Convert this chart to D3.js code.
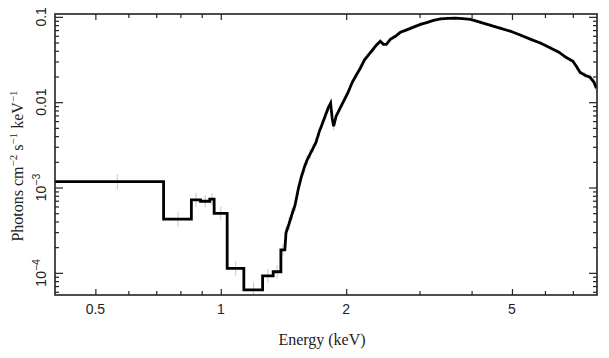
<!DOCTYPE html>
<html lang="en">
<head>
  <meta charset="UTF-8">
  <title>spectrum</title>
</head>
<body>
<style>
  * {
    padding: 0;
    margin: 0;
  }

  body {
    background: #fff;
  }

  #app {
    width: 609px;
    height: 358px;
  }
</style>

<div id="app"></div>

<script src="https://cdn.jsdelivr.net/npm/d3@7/dist/d3.min.js"></script>
<script>
  // wide low-energy bins (keV) and their model flux
  let binLo = [0.40, 0.729, 0.850, 0.894, 0.941, 0.964, 1.036, 1.136, 1.26, 1.336, 1.394]
  let binHi = [0.729, 0.850, 0.894, 0.941, 0.964, 1.036, 1.136, 1.26, 1.336, 1.394, 1.425]
  let binFlux = [1.17e-3, 4.25e-4, 7.15e-4, 6.9e-4, 7.33e-4, 4.99e-4, 1.13e-4, 6.3e-5, 9.2e-5, 1.03e-4, 1.86e-4]
  let binErr = [0.09, 0.09, 0.085, 0.07, 0.07, 0.08, 0.085, 0.09, 0.08, 0.08, 0.07]   // half-length, dex

  // narrow bins above ~1.43 keV
  let denseE = [1.434, 1.458, 1.483, 1.508, 1.533, 1.558, 1.585, 1.611, 1.638, 1.666, 1.693, 1.722, 1.751, 1.780, 1.810,
    1.835, 1.851, 1.866, 1.892, 1.934, 1.978, 2.022, 2.068, 2.114, 2.162, 2.210, 2.260, 2.311, 2.362, 2.415,
    2.456, 2.497, 2.553, 2.625, 2.698, 2.775, 2.853, 2.933, 3.015, 3.134, 3.241, 3.369, 3.502, 3.661, 3.806,
    3.978, 4.205, 4.445, 4.699, 4.966, 5.250, 5.550, 5.867, 6.202, 6.481, 6.737, 7.004, 7.161, 7.281, 7.486,
    7.697, 7.870, 7.97]
  let denseF = [2.94e-4, 3.74e-4, 4.90e-4, 6.24e-4, 9.35e-4, 1.29e-3, 1.69e-3, 2.10e-3, 2.47e-3, 2.90e-3, 3.40e-3, 4.46e-3, 5.53e-3, 6.86e-3, 8.51e-3,
    9.73e-3, 6.50e-3, 5.24e-3, 6.86e-3, 8.51e-3, 1.055e-2, 1.31e-2, 1.71e-2, 2.07e-2, 2.50e-2, 3.10e-2, 3.55e-2, 4.06e-2, 4.65e-2, 5.17e-2,
    4.77e-2, 4.77e-2, 5.45e-2, 5.92e-2, 6.59e-2, 6.95e-2, 7.33e-2, 7.74e-2, 8.17e-2, 8.62e-2, 9.10e-2, 9.45e-2, 9.60e-2, 9.65e-2, 9.55e-2,
    9.35e-2, 8.62e-2, 7.96e-2, 7.33e-2, 6.77e-2, 6.08e-2, 5.45e-2, 4.90e-2, 4.28e-2, 3.85e-2, 3.36e-2, 3.02e-2, 2.57e-2, 2.24e-2, 2.07e-2,
    1.96e-2, 1.71e-2, 1.46e-2]
  let denseErr = [0.08, 0.08, 0.07, 0.07, 0.07, 0.06, 0.06, 0.06, 0.06, 0.05, 0.05, 0.05, 0.05, 0.05, 0.05,
    0.04, 0.05, 0.05, 0.04, 0.04, 0.035, 0.035, 0.03, 0.03, 0.03, 0.03, 0.025, 0.025, 0.025, 0.025,
    0.02, 0.02, 0.02, 0.02, 0.02, 0.02, 0.02, 0.02, 0.02, 0.02, 0.02, 0.02, 0.02, 0.02, 0.02,
    0.02, 0.02, 0.02, 0.02, 0.02, 0.025, 0.025, 0.025, 0.025, 0.025, 0.025, 0.03, 0.03, 0.035, 0.035,
    0.04, 0.04, 0.045]

  // ticks
  let xMajor = [0.5, 1, 2, 5]
  let xMajorLabels = ["0.5", "1", "2", "5"]
  let xMinor = [0.6, 0.7, 0.8, 0.9, 3, 4, 6, 7]
  let yMajor = [1e-4, 1e-3, 0.01, 0.1]
  let yMajorLabels = [["10", "\u22124"], ["10", "\u22123"], ["0.01", ""], ["0.1", ""]]
  let yMinor = [6e-5, 7e-5, 8e-5, 9e-5, 2e-4, 3e-4, 4e-4, 5e-4, 6e-4, 7e-4, 8e-4, 9e-4,
    2e-3, 3e-3, 4e-3, 5e-3, 6e-3, 7e-3, 8e-3, 9e-3, 0.02, 0.03, 0.04, 0.05, 0.06, 0.07, 0.08, 0.09]

  let $width = 609, $height = 358
  let $left = 55, $right = 597, $top = 14, $bottom = 295

  let x = d3.scaleLog().domain([0.4, 8]).range([$left, $right])
  let y = d3.scaleLog().domain([5.5e-5, 0.108]).range([$bottom, $top])

  let svg = d3.select("#app").append("svg").attr("width", $width).attr("height", $height)

  svg.append("clipPath").attr("id", "clip").append("rect")
    .attr("x", $left).attr("y", $top).attr("width", $right - $left).attr("height", $bottom - $top)

  let plot = svg.append("g").attr("clip-path", "url(#clip)")

  // grey error bars
  let bars = []
  binLo.forEach(function (lo, i) {
    bars.push({e: (lo + binHi[i]) / 2, f: binFlux[i], d: binErr[i]})
  })
  denseE.forEach(function (e, i) {
    bars.push({e: e, f: denseF[i], d: denseErr[i]})
  })

  plot.selectAll("line.err").data(bars).enter().append("line").attr("class", "err")
    .attr("x1", function (d) { return x(d.e) })
    .attr("x2", function (d) { return x(d.e) })
    .attr("y1", function (d) { return y(d.f * Math.pow(10, d.d)) })
    .attr("y2", function (d) { return y(d.f / Math.pow(10, d.d)) })
    .attr("stroke", "#c8c8c8").attr("stroke-width", 1)

  // model: wide steps, then the narrow bins joined up
  let pts = []
  binLo.forEach(function (lo, i) {
    pts.push([lo, binFlux[i]])
    pts.push([binHi[i], binFlux[i]])
  })
  denseE.forEach(function (e, i) {
    pts.push([e, denseF[i]])
  })

  let line = d3.line()
    .x(function (d) { return x(d[0]) })
    .y(function (d) { return y(d[1]) })

  plot.append("path").datum(pts).attr("d", line)
    .attr("fill", "none").attr("stroke", "#000").attr("stroke-width", 2.8)
    .attr("stroke-linejoin", "miter")

  // axes, ticks pointing inward
  function styleAxis(g) {
    g.select(".domain").remove()
    g.selectAll(".tick line").attr("stroke", "#222").attr("stroke-width", 1.2)
  }

  let axes = [
    [d3.axisBottom(x), xMajor, 6, "translate(0," + $bottom + ")"],
    [d3.axisBottom(x), xMinor, 4, "translate(0," + $bottom + ")"],
    [d3.axisTop(x), xMajor, 6, "translate(0," + $top + ")"],
    [d3.axisTop(x), xMinor, 4, "translate(0," + $top + ")"],
    [d3.axisLeft(y), yMajor, 8, "translate(" + $left + ",0)"],
    [d3.axisLeft(y), yMinor, 4, "translate(" + $left + ",0)"],
    [d3.axisRight(y), yMajor, 8, "translate(" + $right + ",0)"],
    [d3.axisRight(y), yMinor, 4, "translate(" + $right + ",0)"]
  ]
  axes.forEach(function (a) {
    svg.append("g").attr("transform", a[3])
      .call(a[0].tickValues(a[1]).tickSize(-a[2]).tickFormat(""))
      .call(styleAxis)
  })

  svg.append("rect")
    .attr("x", $left).attr("y", $top).attr("width", $right - $left).attr("height", $bottom - $top)
    .attr("fill", "none").attr("stroke", "#222").attr("stroke-width", 1.6)

  // x tick labels
  svg.selectAll("text.xl").data(xMajor).enter().append("text").attr("class", "xl")
    .text(function (d, i) { return xMajorLabels[i] })
    .attr("x", function (d) { return x(d) })
    .attr("y", 314)
    .attr("text-anchor", "middle")
    .attr("font-family", "Liberation Sans, Arial, sans-serif")
    .attr("font-size", "14px").attr("fill", "#222")

  // y tick labels, rotated
  yMajor.forEach(function (v, i) {
    let t = svg.append("text")
      .attr("transform", "translate(45.5," + y(v) + ") rotate(-90)")
      .attr("text-anchor", "middle")
      .attr("font-family", "Liberation Sans, Arial, sans-serif")
      .attr("font-size", "14px").attr("fill", "#222")
    t.append("tspan").text(yMajorLabels[i][0])
    if (yMajorLabels[i][1]) {
      t.append("tspan").text(yMajorLabels[i][1]).attr("font-size", "10.5px").attr("dy", -6)
    }
  })

  // axis titles
  svg.append("text").text("Energy (keV)")
    .attr("x", 322).attr("y", 345)
    .attr("text-anchor", "middle")
    .attr("font-family", "Liberation Serif, Times New Roman, serif")
    .attr("font-size", "16px").attr("fill", "#222")

  let yt = svg.append("text")
    .attr("transform", "translate(23,166) rotate(-90)")
    .attr("text-anchor", "middle")
    .attr("font-family", "Liberation Serif, Times New Roman, serif")
    .attr("font-size", "16px").attr("fill", "#222")
  yt.append("tspan").text("Photons cm")
  yt.append("tspan").text("\u22122").attr("font-size", "11px").attr("dy", -6)
  yt.append("tspan").text(" s").attr("dy", 6)
  yt.append("tspan").text("\u22121").attr("font-size", "11px").attr("dy", -6)
  yt.append("tspan").text(" keV").attr("dy", 6)
  yt.append("tspan").text("\u22121").attr("font-size", "11px").attr("dy", -6)
</script>
</body>
</html>
